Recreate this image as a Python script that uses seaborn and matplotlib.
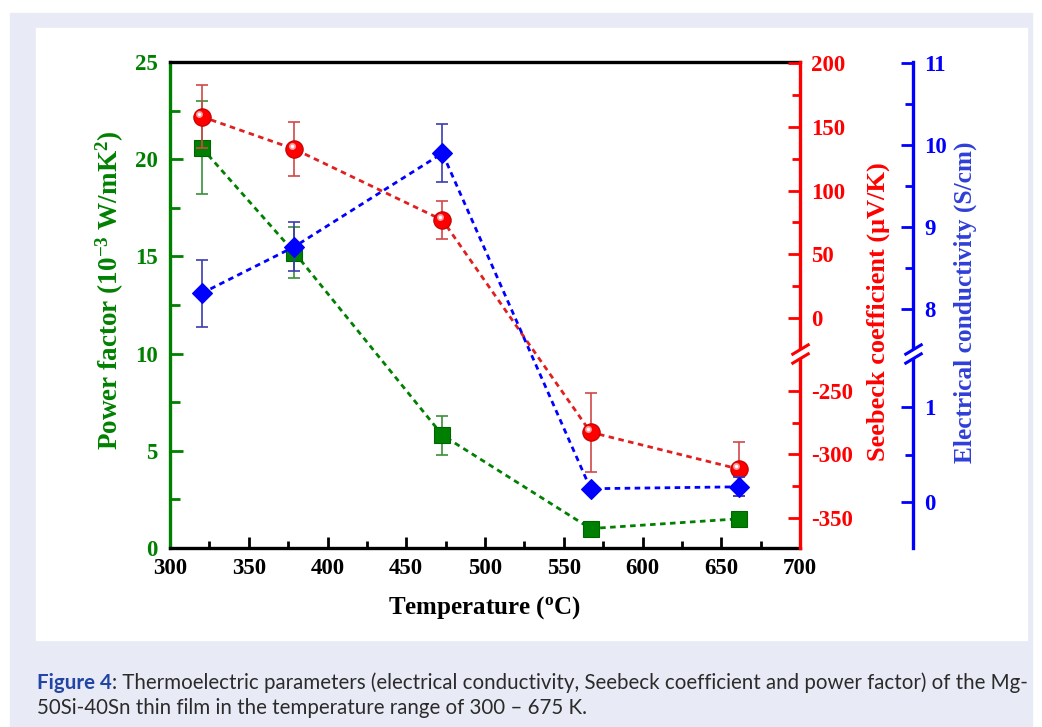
import numpy as np
import pandas as pd
import matplotlib
matplotlib.use("Agg")
import matplotlib.pyplot as plt
import seaborn as sns
from matplotlib.patches import Rectangle
from matplotlib.path import Path
from matplotlib.transforms import ScaledTranslation

# ---------------- data ----------------
temperature = [320, 379, 473, 567, 661]
power_factor = [20.6, 15.2, 5.8, 1.0, 1.5]
power_factor_err = [2.4, 1.3, 1.0, 0.0, 0.0]
seebeck = [158, 132.5, 76.8, -282.5, -311.5]
seebeck_err = [25, 21, 15, 31, 21]
conductivity = [8.19, 8.76, 9.9, 0.14, 0.16]
conductivity_err = [0.41, 0.30, 0.35, 0.0, 0.10]

x_ticks = [300, 350, 400, 450, 500, 550, 600, 650, 700]
x_minor = [325, 375, 425, 475, 525, 575, 625, 675]
pf_ticks = [0, 5, 10, 15, 20, 25]
pf_minor = [2.5, 7.5, 12.5, 17.5, 22.5]
seebeck_ticks = [-350, -300, -250, 0, 50, 100, 150, 200]
seebeck_labels = ["-350", "-300", "-250", "0", "50", "100", "150", "200"]
seebeck_minor = [-325, -275, 25, 75, 125, 175]
cond_ticks = [0, 1, 8, 9, 10, 11]
cond_labels = ["0", "1", "8", "9", "10", "11"]
cond_minor = [0.5, 8.5, 9.5, 10.5]

caption_bold = "Figure 4"
caption_rest = (": Thermoelectric parameters (electrical conductivity, Seebeck coefficient "
                "and power factor) of the Mg-")
caption_line2 = "50Si-40Sn thin film in the temperature range of 300 \u2013 675 K."

df = pd.DataFrame({"temperature": temperature, "power_factor": power_factor,
                   "seebeck": seebeck, "conductivity": conductivity})

# ---------------- broken-axis scales (value -> screen) ----------------
# knots: axis values at bottom, lower-segment top, upper-segment bottom, top
SEEBECK_V = [-373.8, -224.0, -24.3, 200.8]
COND_V = [-0.484, 1.516, 7.512, 11.012]
SCREEN_P = [-548.0, -358.0, -349.0, -62.0]


def piecewise(vk, pk):
    vk = np.asarray(vk, float)
    pk = np.asarray(pk, float)

    def make(a, b):
        s0 = (b[1] - b[0]) / (a[1] - a[0])
        s1 = (b[-1] - b[-2]) / (a[-1] - a[-2])

        def f(v):
            v = np.asarray(v, float)
            out = np.interp(v, a, b)
            out = np.where(v < a[0], b[0] + (v - a[0]) * s0, out)
            out = np.where(v > a[-1], b[-1] + (v - a[-1]) * s1, out)
            return out
        return f
    return make(vk, pk), make(pk, vk)


# ---------------- style ----------------
sns.set_style("ticks")
plt.rcParams["font.family"] = ["Liberation Serif", "DejaVu Serif"]
plt.rcParams["font.weight"] = "bold"
plt.rcParams["axes.labelweight"] = "bold"
plt.rcParams["axes.unicode_minus"] = False
plt.rcParams["mathtext.fontset"] = "custom"
plt.rcParams["mathtext.rm"] = "Liberation Serif:bold"
plt.rcParams["mathtext.bf"] = "Liberation Serif:bold"
plt.rcParams["mathtext.it"] = "Liberation Serif:bold:italic"
plt.rcParams["mathtext.default"] = "rm"

GREEN = "#008000"
RED = "#ff0000"
BLUE = "#0000ff"
W, H = 1042, 727

fig = plt.figure(figsize=(W / 100, H / 100), dpi=100)
fig.patch.set_facecolor("white")
fig.add_artist(Rectangle((10 / W, 0), (1032 - 10) / W, (H - 13) / H,
                         transform=fig.transFigure, color="#e8ebf6", zorder=-2))
fig.add_artist(Rectangle((36 / W, 1 - 640 / H), (1027 - 36) / W, (640 - 28) / H,
                         transform=fig.transFigure, color="white", zorder=-1))

ax = fig.add_axes([170 / W, 1 - 548 / H, 630 / W, 486 / H])
ax_r = ax.twinx()
ax_b = ax.twinx()

f_r, i_r = piecewise(SEEBECK_V, SCREEN_P)
f_b, i_b = piecewise(COND_V, SCREEN_P)
ax_r.set_yscale("function", functions=(f_r, i_r))
ax_b.set_yscale("function", functions=(f_b, i_b))

line_style = (0, (2.0, 1.6))
err_kw = dict(fmt="none", elinewidth=1.2, capsize=4, capthick=1.2)

# power factor (green)
ax.errorbar(temperature, power_factor, yerr=power_factor_err, ecolor="#3a8f3a", zorder=2, **err_kw)
sns.lineplot(data=df, x="temperature", y="power_factor", ax=ax, color=GREEN,
             linestyle=line_style, linewidth=2.0, marker="s", markersize=11.5,
             markeredgecolor="#006400", markeredgewidth=0.8, markerfacecolor=GREEN,
             errorbar=None, sort=False, zorder=3)

# Seebeck (red) with a small specular highlight on each sphere
ax_r.errorbar(temperature, seebeck, yerr=seebeck_err, ecolor="#d04848", zorder=2, **err_kw)
sns.lineplot(data=df, x="temperature", y="seebeck", ax=ax_r, color="#e02020",
             linestyle=line_style, linewidth=2.0, marker="o", markersize=12.5,
             markeredgecolor="#c00000", markeredgewidth=0.8, markerfacecolor=RED,
             errorbar=None, sort=False, zorder=3)
shine = ax_r.transData + ScaledTranslation(-2.5 / 100, 3.0 / 100, fig.dpi_scale_trans)
ax_r.plot(temperature, seebeck, linestyle="none", marker="o", markersize=5,
          markerfacecolor="#ff9d9d", markeredgewidth=0, transform=shine, zorder=4)
ax_r.plot(temperature, seebeck, linestyle="none", marker="o", markersize=2.5,
          markerfacecolor="#ffffff", markeredgewidth=0, transform=shine, zorder=4)

# conductivity (blue)
ax_b.errorbar(temperature, conductivity, yerr=conductivity_err, ecolor="#3c3cb0", zorder=2, **err_kw)
sns.lineplot(data=df, x="temperature", y="conductivity", ax=ax_b, color=BLUE,
             linestyle=line_style, linewidth=2.0, marker="D", markersize=10.5,
             markeredgecolor=BLUE, markeredgewidth=0.8, markerfacecolor=BLUE,
             errorbar=None, sort=False, zorder=3)

# ---------------- axes limits / ticks ----------------
ax.set_xlim(300, 700)
ax.set_ylim(0, 25)
ax_r.set_ylim(SEEBECK_V[0], SEEBECK_V[-1])
ax_b.set_ylim(COND_V[0], COND_V[-1])

ax.set_xticks(x_ticks)
ax.set_xticks(x_minor, minor=True)
ax.set_yticks(pf_ticks)
ax.set_yticks(pf_minor, minor=True)
ax_r.set_yticks(seebeck_ticks, labels=seebeck_labels)
ax_r.set_yticks(seebeck_minor, minor=True)
ax_b.set_yticks(cond_ticks, labels=cond_labels)
ax_b.set_yticks(cond_minor, minor=True)

TICK_FS = 16.5
ax.tick_params(axis="x", which="both", direction="in", top=False, colors="black",
               labelsize=TICK_FS, width=2, pad=7)
ax.tick_params(axis="x", which="major", length=8)
ax.tick_params(axis="x", which="minor", length=5)
ax.tick_params(axis="y", which="both", direction="in", colors=GREEN,
               labelsize=TICK_FS, width=2, pad=9, right=False)
ax.tick_params(axis="y", which="major", length=9)
ax.tick_params(axis="y", which="minor", length=7)
for a, c in ((ax_r, RED), (ax_b, BLUE)):
    a.tick_params(axis="y", which="both", direction="in", colors=c,
                  labelsize=TICK_FS, width=2, pad=8, left=False)
    a.tick_params(axis="y", which="major", length=9)
    a.tick_params(axis="y", which="minor", length=6)

for lab in ax.get_xticklabels() + ax.get_yticklabels() + ax_r.get_yticklabels() + ax_b.get_yticklabels():
    lab.set_fontweight("bold")

# spines
SW = 2.4
ax.spines["left"].set_color(GREEN)
ax.spines["top"].set_color("black")
ax.spines["bottom"].set_color("black")
ax.spines["right"].set_visible(False)
for s in ax.spines.values():
    s.set_linewidth(SW)
for a, c, pos in ((ax_r, RED, 1.0), (ax_b, BLUE, (913 - 170) / 630)):
    for k in ("left", "top", "bottom"):
        a.spines[k].set_visible(False)
    a.spines["right"].set_color(c)
    a.spines["right"].set_linewidth(SW)
    a.spines["right"].set_position(("axes", pos))
    a.patch.set_visible(False)

# axis break marks
slash = Path([(-1.0, -0.6), (1.0, 0.6)], [Path.MOVETO, Path.LINETO])
for a, c, pos, vk in ((ax_r, RED, 1.0, SEEBECK_V), (ax_b, BLUE, (913 - 170) / 630, COND_V)):
    tr = a.get_yaxis_transform()
    a.plot([pos, pos], [vk[1], vk[2]], transform=tr, color="white", lw=6,
           solid_capstyle="butt", clip_on=False, zorder=5)
    a.plot([pos, pos], [vk[1], vk[2]], transform=tr, linestyle="none", marker=slash,
           markersize=13, markeredgewidth=2.2, markeredgecolor=c, clip_on=False, zorder=6)

# labels
ax.set_xlabel(r"Temperature ($^{\mathrm{o}}$C)", fontsize=18, color="black")
ax.set_ylabel(r"Power factor (10$^{-3}$ W/mK$^{2}$)", fontsize=19.5, color=GREEN)
ax_r.set_ylabel("Seebeck coefficient (\u03bcV/K)", fontsize=19, color=RED, rotation=90)
ax_b.set_ylabel("Electrical conductivity (S/cm)", fontsize=18.3, color="#2f3fd8", rotation=90)
ax.xaxis.set_label_coords(0.5, -0.123)
ax.yaxis.set_label_coords(-0.095, 0.53)
ax_r.yaxis.set_label_coords(1.124, 0.486)
ax_b.yaxis.set_label_coords(1.262, 0.506)
for lab in (ax.xaxis.label, ax.yaxis.label, ax_r.yaxis.label, ax_b.yaxis.label):
    lab.set_verticalalignment("center")
    lab.set_horizontalalignment("center")

# ---------------- caption ----------------
cap_family = ["Liberation Sans Narrow", "Lato", "DejaVu Sans"]
x0, x_right = 37, 1025
y1, y2 = 1 - 683 / H, 1 - 708 / H


def place_caption(fs):
    t1 = fig.text(x0 / W, y1, caption_bold, color="#2346a6", fontweight="bold",
                  family=cap_family, fontsize=fs, va="center", ha="left")
    fig.canvas.draw()
    bb = t1.get_window_extent()
    t2 = fig.text(bb.x1 / W, y1, caption_rest, color="#2b2b2b", fontweight="normal",
                  family=cap_family, fontsize=fs, va="center", ha="left")
    t3 = fig.text(x0 / W, y2, caption_line2, color="#2b2b2b", fontweight="normal",
                  family=cap_family, fontsize=fs, va="center", ha="left")
    fig.canvas.draw()
    return (t1, t2, t3), t2.get_window_extent().x1


texts, right = place_caption(13)
fs = 13 * (x_right - x0) / (right - x0)
for t in texts:
    t.remove()
place_caption(fs)

fig.savefig("out.png", dpi=100, facecolor=fig.get_facecolor())
